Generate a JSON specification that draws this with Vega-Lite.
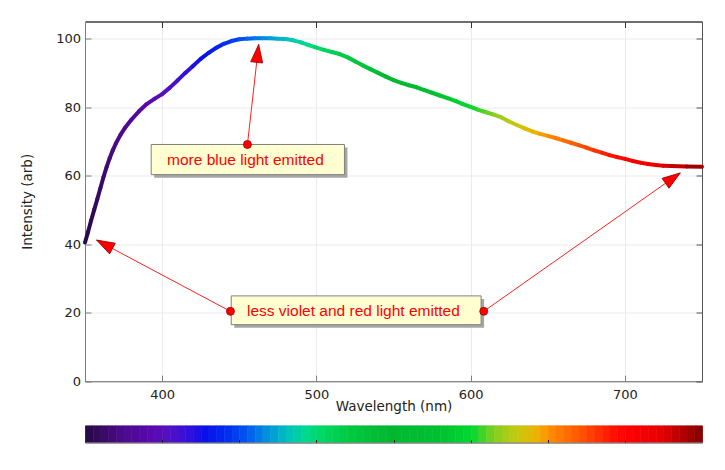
{
  "$schema": "https://vega.github.io/schema/vega-lite/v6.json",
  "background": "white",
  "padding": {"left": 20, "top": 20.5, "right": 23.5, "bottom": 27},
  "spacing": 44.3,
  "bounds": "flush",
  "config": {
    "font": "DejaVu Sans",
    "view": {"stroke": null},
    "axis": {"labelColor": "#222222", "titleColor": "#222222", "labelFontSize": 13, "titleFontSize": 13.5, "titleFontWeight": "normal", "gridColor": "#ebebeb", "gridWidth": 1}
  },
  "datasets": {
    "curve": [
      {"w": 350, "v": 40.5}, {"w": 352, "v": 43.6}, {"w": 354, "v": 47.0}, {"w": 356, "v": 50.1}, {"w": 358, "v": 53.2},
      {"w": 360, "v": 56.4}, {"w": 362, "v": 59.6}, {"w": 364, "v": 62.5}, {"w": 366, "v": 65.1}, {"w": 368, "v": 67.4},
      {"w": 370, "v": 69.4}, {"w": 373, "v": 71.9}, {"w": 376, "v": 74.0}, {"w": 380, "v": 76.3}, {"w": 385, "v": 78.8},
      {"w": 390, "v": 80.9}, {"w": 395, "v": 82.4}, {"w": 400, "v": 83.8}, {"w": 405, "v": 85.7}, {"w": 410, "v": 87.8},
      {"w": 415, "v": 90.0}, {"w": 420, "v": 92.0}, {"w": 425, "v": 94.1}, {"w": 430, "v": 95.8}, {"w": 435, "v": 97.3},
      {"w": 440, "v": 98.5}, {"w": 445, "v": 99.3}, {"w": 450, "v": 99.8}, {"w": 455, "v": 100.0}, {"w": 460, "v": 100.1},
      {"w": 465, "v": 100.1}, {"w": 470, "v": 100.1}, {"w": 475, "v": 100.0}, {"w": 480, "v": 99.9}, {"w": 485, "v": 99.5},
      {"w": 490, "v": 98.9}, {"w": 495, "v": 98.1}, {"w": 500, "v": 97.4}, {"w": 505, "v": 96.7}, {"w": 510, "v": 96.1},
      {"w": 515, "v": 95.5}, {"w": 520, "v": 94.6}, {"w": 525, "v": 93.4}, {"w": 530, "v": 92.2}, {"w": 535, "v": 91.1},
      {"w": 540, "v": 90.0}, {"w": 545, "v": 88.9}, {"w": 550, "v": 87.9}, {"w": 555, "v": 87.1}, {"w": 560, "v": 86.4},
      {"w": 565, "v": 85.8}, {"w": 570, "v": 85.0}, {"w": 575, "v": 84.2}, {"w": 580, "v": 83.4}, {"w": 585, "v": 82.6},
      {"w": 590, "v": 81.8}, {"w": 595, "v": 80.9}, {"w": 600, "v": 80.1}, {"w": 605, "v": 79.2}, {"w": 610, "v": 78.5},
      {"w": 615, "v": 77.8}, {"w": 620, "v": 77.0}, {"w": 625, "v": 75.8}, {"w": 630, "v": 74.8}, {"w": 635, "v": 73.8},
      {"w": 640, "v": 72.9}, {"w": 645, "v": 72.2}, {"w": 650, "v": 71.6}, {"w": 655, "v": 71.0}, {"w": 660, "v": 70.3},
      {"w": 665, "v": 69.6}, {"w": 670, "v": 68.9}, {"w": 675, "v": 68.2}, {"w": 680, "v": 67.4}, {"w": 685, "v": 66.7},
      {"w": 690, "v": 66.0}, {"w": 695, "v": 65.4}, {"w": 700, "v": 64.9}, {"w": 705, "v": 64.3}, {"w": 710, "v": 63.8},
      {"w": 715, "v": 63.4}, {"w": 720, "v": 63.1}, {"w": 725, "v": 62.9}, {"w": 730, "v": 62.8}, {"w": 740, "v": 62.7},
      {"w": 750, "v": 62.6}
    ],
    "cbar": [
      {"w": 350}, {"w": 355}, {"w": 360}, {"w": 365}, {"w": 370}, {"w": 375}, {"w": 380}, {"w": 385}, {"w": 390}, {"w": 395},
      {"w": 400}, {"w": 405}, {"w": 410}, {"w": 415}, {"w": 420}, {"w": 425}, {"w": 430}, {"w": 435}, {"w": 440}, {"w": 445},
      {"w": 450}, {"w": 455}, {"w": 460}, {"w": 465}, {"w": 470}, {"w": 475}, {"w": 480}, {"w": 485}, {"w": 490}, {"w": 495},
      {"w": 500}, {"w": 505}, {"w": 510}, {"w": 515}, {"w": 520}, {"w": 525}, {"w": 530}, {"w": 535}, {"w": 540}, {"w": 545},
      {"w": 550}, {"w": 555}, {"w": 560}, {"w": 565}, {"w": 570}, {"w": 575}, {"w": 580}, {"w": 585}, {"w": 590}, {"w": 595},
      {"w": 600}, {"w": 605}, {"w": 610}, {"w": 615}, {"w": 620}, {"w": 625}, {"w": 630}, {"w": 635}, {"w": 640}, {"w": 645},
      {"w": 650}, {"w": 655}, {"w": 660}, {"w": 665}, {"w": 670}, {"w": 675}, {"w": 680}, {"w": 685}, {"w": 690}, {"w": 695},
      {"w": 700}, {"w": 705}, {"w": 710}, {"w": 715}, {"w": 720}, {"w": 725}, {"w": 730}, {"w": 735}, {"w": 740}, {"w": 745}
    ],
    "boxes": [
      {"id": "blue", "x1": 392.9, "x2": 518.2, "y1": 60.3, "y2": 69.1, "tx": 454.0, "ty": 64.5, "label": "more blue light emitted"},
      {"id": "vr", "x1": 444.8, "x2": 606.8, "y1": 16.5, "y2": 24.9, "tx": 524.0, "ty": 20.4, "label": "less violet and red light emitted"}
    ],
    "arrows": [
      {"id": "A", "x": 455.3, "y": 69.1, "tipx": 462.6, "tipy": 98.3},
      {"id": "B", "x": 444.3, "y": 20.4, "tipx": 357.5, "tipy": 41.2},
      {"id": "C", "x": 608.5, "y": 20.4, "tipx": 735.9, "tipy": 60.8}
    ]
  },
  "vconcat": [
    {
      "width": 617,
      "height": 359.7,
      "view": {"stroke": "#555555", "strokeWidth": 1},
      "layer": [
        {
          "data": {"name": "curve"},
          "mark": {"type": "point", "opacity": 0},
          "encoding": {
            "x": {"field": "w", "type": "quantitative", "scale": {"domain": [350, 750], "nice": false, "zero": false},
              "axis": {"title": "Wavelength (nm)", "values": [400, 500, 600, 700], "grid": true, "domainColor": "#7f7f7f", "tickColor": "#7f7f7f", "tickSize": -6, "labelPadding": 13.5, "titlePadding": -2.7}},
            "y": {"field": "v", "type": "quantitative", "scale": {"domain": [0, 105], "nice": false},
              "axis": {"title": "Intensity (arb)", "values": [0, 20, 40, 60, 80, 100], "grid": true, "domainColor": "#7f7f7f", "tickColor": "#7f7f7f", "tickSize": -6, "labelPadding": 10.5, "titlePadding": 21}}
          }
        },
        {
          "data": {"name": "curve"},
          "mark": {"type": "point", "opacity": 0},
          "encoding": {
            "x": {"field": "w", "type": "quantitative", "axis": {"orient": "top", "title": null, "labels": false, "values": [400, 500, 600, 700], "grid": false, "domainColor": "#333333", "tickColor": "#333333", "tickSize": -6}},
            "y": {"field": "v", "type": "quantitative", "axis": {"orient": "right", "title": null, "labels": false, "values": [0, 20, 40, 60, 80, 100], "grid": false, "domainColor": "#555555", "tickColor": "#555555", "tickSize": -6}}
          }
        },
        {
          "data": {"name": "curve"},
          "transform": [
            {"window": [{"op": "lead", "field": "w", "as": "w2"}, {"op": "lead", "field": "v", "as": "v2"}], "sort": [{"field": "w", "order": "ascending"}]},
            {"filter": "datum.w2 != null"}
          ],
          "mark": {"type": "rule", "strokeWidth": 4, "strokeCap": "round"},
          "encoding": {
            "x": {"field": "w", "type": "quantitative", "axis": null},
            "x2": {"field": "w2"},
            "y": {"field": "v", "type": "quantitative", "axis": null},
            "y2": {"field": "v2"},
            "color": {"field": "w", "type": "quantitative", "legend": null,
              "scale": {"type": "linear", "interpolate": "rgb",
                "domain": [350, 370, 390, 400, 412, 425, 440, 450, 465, 478, 490, 502, 520, 545, 575, 598, 612, 628, 641, 650, 670, 690, 700, 720, 750],
                "range": ["#2a0a4a", "#4a0a85", "#5a08b0", "#5510c0", "#3a10d8", "#0a10ea", "#0030f0", "#0050f0", "#0090e0", "#00c0c0", "#00d890", "#00d860", "#00c840", "#00b830", "#00c030", "#00d830", "#80d020", "#c8c810", "#f0b000", "#ff8800", "#ff5000", "#ff1000", "#ff0000", "#e80000", "#7a0000"]}}
          }
        },
        {
          "data": {"name": "boxes"},
          "mark": {"type": "rect", "fill": "#a6a6a6", "xOffset": 3, "x2Offset": 3, "yOffset": 3, "y2Offset": 3},
          "encoding": {
            "x": {"field": "x1", "type": "quantitative", "axis": null}, "x2": {"field": "x2"},
            "y": {"field": "y1", "type": "quantitative", "axis": null}, "y2": {"field": "y2"}
          }
        },
        {
          "data": {"name": "boxes"},
          "mark": {"type": "rect", "fill": "#ffffd2", "stroke": "#808080", "strokeWidth": 1},
          "encoding": {
            "x": {"field": "x1", "type": "quantitative", "axis": null}, "x2": {"field": "x2"},
            "y": {"field": "y1", "type": "quantitative", "axis": null}, "y2": {"field": "y2"}
          }
        },
        {
          "data": {"name": "boxes"},
          "mark": {"type": "text", "font": "Liberation Sans", "fontSize": 15.5, "color": "#ff0000", "align": "center", "baseline": "middle"},
          "encoding": {
            "x": {"field": "tx", "type": "quantitative", "axis": null},
            "y": {"field": "ty", "type": "quantitative", "axis": null},
            "text": {"field": "label"}
          }
        },
        {
          "data": {"name": "arrows"},
          "mark": {"type": "rule", "color": "#ff2020", "strokeWidth": 1},
          "encoding": {
            "x": {"field": "x", "type": "quantitative", "axis": null}, "x2": {"field": "tipx"},
            "y": {"field": "y", "type": "quantitative", "axis": null}, "y2": {"field": "tipy"}
          }
        },
        {
          "data": {"name": "arrows"},
          "transform": [{"filter": "datum.id == 'A'"}],
          "mark": {"type": "point", "shape": "M0,0L-0.67,2L0.67,2Z", "size": 324, "angle": 6.4, "filled": true, "fill": "#ff0000", "stroke": "#990000", "strokeWidth": 0.8, "opacity": 1},
          "encoding": {"x": {"field": "tipx", "type": "quantitative", "axis": null}, "y": {"field": "tipy", "type": "quantitative", "axis": null}}
        },
        {
          "data": {"name": "arrows"},
          "transform": [{"filter": "datum.id == 'B'"}],
          "mark": {"type": "point", "shape": "M0,0L-0.67,2L0.67,2Z", "size": 324, "angle": 298.2, "filled": true, "fill": "#ff0000", "stroke": "#990000", "strokeWidth": 0.8, "opacity": 1},
          "encoding": {"x": {"field": "tipx", "type": "quantitative", "axis": null}, "y": {"field": "tipy", "type": "quantitative", "axis": null}}
        },
        {
          "data": {"name": "arrows"},
          "transform": [{"filter": "datum.id == 'C'"}],
          "mark": {"type": "point", "shape": "M0,0L-0.67,2L0.67,2Z", "size": 324, "angle": 54.8, "filled": true, "fill": "#ff0000", "stroke": "#990000", "strokeWidth": 0.8, "opacity": 1},
          "encoding": {"x": {"field": "tipx", "type": "quantitative", "axis": null}, "y": {"field": "tipy", "type": "quantitative", "axis": null}}
        },
        {
          "data": {"name": "arrows"},
          "mark": {"type": "circle", "size": 64, "fill": "#ff0000", "stroke": "#990000", "strokeWidth": 0.8, "opacity": 1},
          "encoding": {"x": {"field": "x", "type": "quantitative", "axis": null}, "y": {"field": "y", "type": "quantitative", "axis": null}}
        }
      ],
      "resolve": {"axis": {"x": "independent", "y": "independent"}}
    },
    {
      "width": 617,
      "height": 16.7,
      "view": {"stroke": "#808080", "strokeWidth": 1},
      "data": {"name": "cbar"},
      "mark": {"type": "rect", "strokeWidth": 0.6},
      "encoding": {
        "x": {"field": "w", "type": "quantitative", "bin": {"step": 5, "extent": [350, 750]}, "scale": {"domain": [350, 750], "nice": false, "zero": false},
          "axis": {"orient": "bottom", "title": null, "labels": false, "grid": false, "values": [400, 450, 500, 550, 600, 650, 700], "domainColor": "#808080", "tickColor": "#000000", "tickSize": -3}},
        "fill": {"field": "w", "type": "quantitative", "legend": null,
          "scale": {"type": "linear", "interpolate": "rgb",
            "domain": [350, 370, 390, 400, 412, 425, 440, 450, 465, 478, 490, 502, 520, 545, 575, 598, 612, 628, 641, 650, 670, 690, 700, 720, 750],
            "range": ["#2a0a4a", "#4a0a85", "#5a08b0", "#5510c0", "#3a10d8", "#0a10ea", "#0030f0", "#0050f0", "#0090e0", "#00c0c0", "#00d890", "#00d860", "#00c840", "#00b830", "#00c030", "#00d830", "#80d020", "#c8c810", "#f0b000", "#ff8800", "#ff5000", "#ff1000", "#ff0000", "#e80000", "#7a0000"]}},
        "stroke": {"field": "w", "type": "quantitative", "legend": null,
          "scale": {"type": "linear", "interpolate": "rgb",
            "domain": [350, 370, 390, 400, 412, 425, 440, 450, 465, 478, 490, 502, 520, 545, 575, 598, 612, 628, 641, 650, 670, 690, 700, 720, 750],
            "range": ["#2a0a4a", "#4a0a85", "#5a08b0", "#5510c0", "#3a10d8", "#0a10ea", "#0030f0", "#0050f0", "#0090e0", "#00c0c0", "#00d890", "#00d860", "#00c840", "#00b830", "#00c030", "#00d830", "#80d020", "#c8c810", "#f0b000", "#ff8800", "#ff5000", "#ff1000", "#ff0000", "#e80000", "#7a0000"]}}
      }
    }
  ]
}
